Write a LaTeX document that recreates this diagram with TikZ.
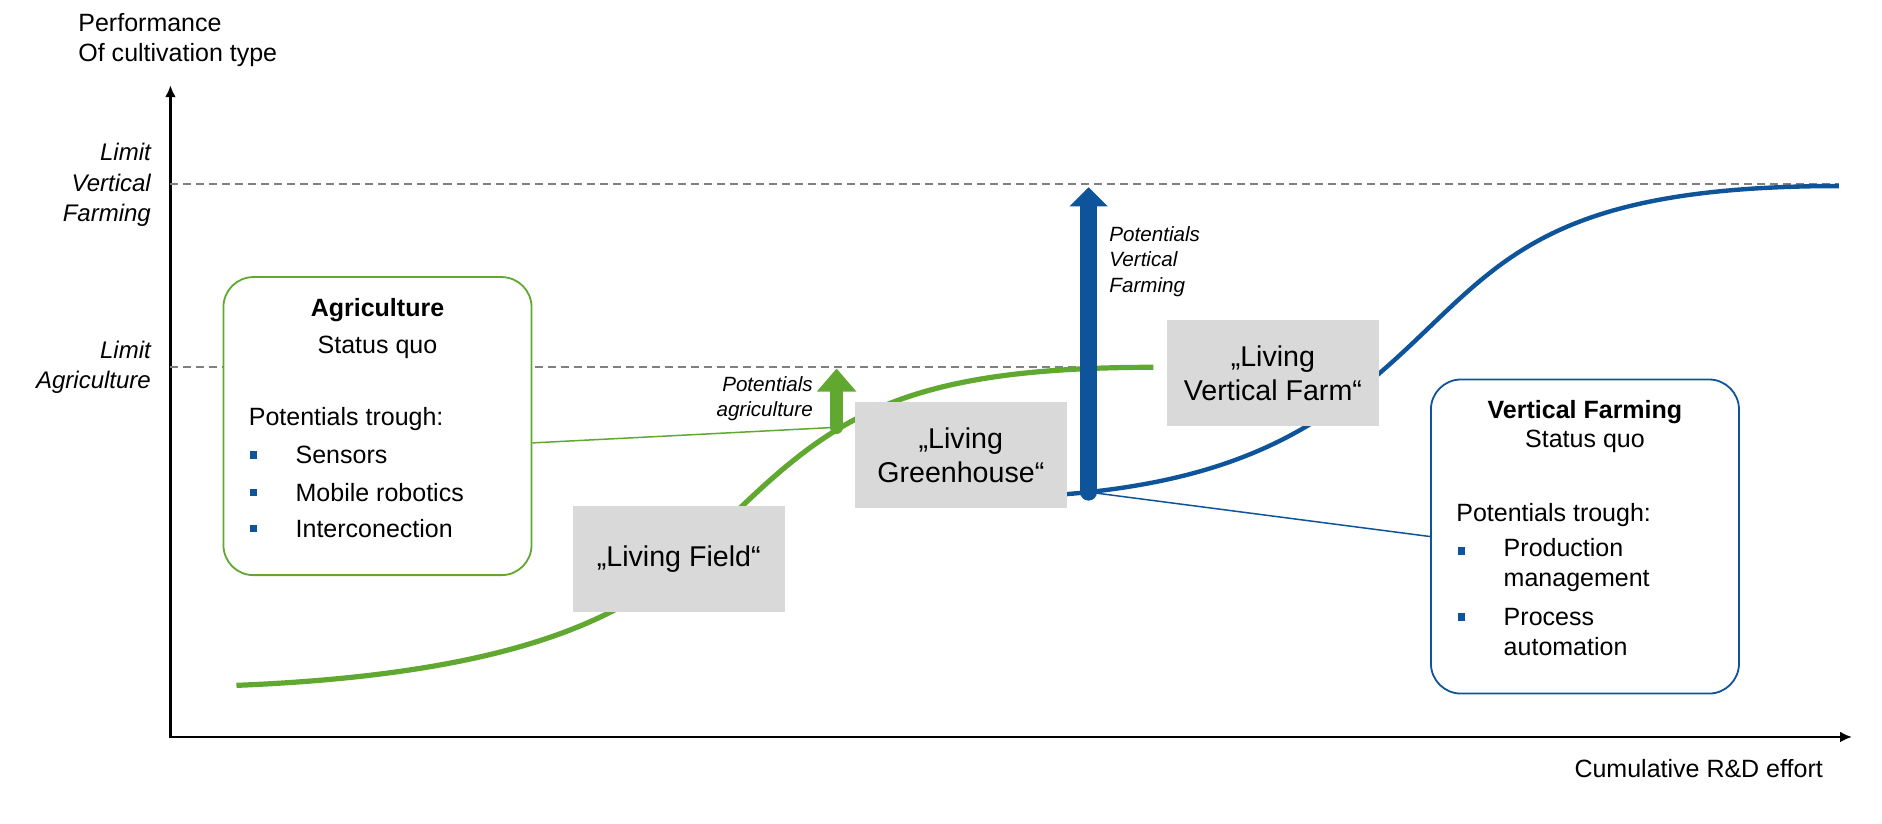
\documentclass[tikz,border=0pt]{standalone}
\usepackage{fontspec}
\setmainfont{Liberation Sans}
\usetikzlibrary{arrows.meta}

\definecolor{agrigreen}{RGB}{96,168,48}
\definecolor{vfblue}{RGB}{14,84,154}
\definecolor{stagegray}{RGB}{217,217,217}
\definecolor{limitgray}{RGB}{128,128,128}

\begin{document}
\begin{tikzpicture}[x=0.6pt,y=-0.6pt,>=Latex,
	txt/.style={inner sep=0pt,font=\fontsize{12.5}{15}\selectfont},
	hd/.style={inner sep=0pt,font=\fontsize{12.5}{15}\selectfont\bfseries},
	lim/.style={inner sep=0pt,align=right,anchor=east,font=\fontsize{12}{15.3}\selectfont\itshape},
	pot/.style={inner sep=0pt,font=\fontsize{10.3}{12.8}\selectfont\itshape},
	stage/.style={fill=stagegray,minimum width=106pt,minimum height=53pt,inner sep=0pt,align=center,font=\fontsize{14.3}{17}\selectfont},
	quo/.style={draw,fill=white,rounded corners=15pt,line width=0.9pt,minimum width=154pt,inner sep=0pt},
	bul/.style={fill=vfblue,minimum size=3.6pt,inner sep=0pt},
	limline/.style={limitgray,line width=1pt,dash pattern=on 4pt off 2.5pt},
	axisline/.style={line width=1.4pt,{Latex[length=6pt,width=5.5pt]}-{Latex[length=6pt,width=5.5pt]}}]
	\useasboundingbox (0,0) rectangle (1568,686.5);

	% axes
	\coordinate (o) at (142,614);
	\coordinate (ytop) at (142,71);
	\coordinate (xend) at (1543,614);
	\draw[axisline] (ytop) -- (o) -- (xend);
	\node[txt,anchor=west,align=left] (ylab) at (65,33) {Performance\\Of cultivation type};
	\node[txt,anchor=east] (xlab) at (1519,640) {Cumulative R\&D effort};

	% limits
	\coordinate (limvf) at (142,153);
	\coordinate (limvfend) at (1532,153);
	\coordinate (limag) at (142,306);
	\coordinate (limagend) at (961,306);
	\node[lim] (limvflab) at (126,154) {Limit\\Vertical\\Farming};
	\node[lim] (limaglab) at (126,306) {Limit\\Agriculture};
	\draw[limline] (limvf) -- (limvfend);
	\draw[limline] (limag) -- (limagend);

	% curves
	\draw[agrigreen,line width=2.6pt] (197,571) .. controls (517,558.2) and (565,472.3) .. (620,420)
		.. controls (700,344) and (761,306) .. (961,306);
	\draw[vfblue,line width=2.2pt] (870,413) .. controls (1040,402.8) and (1110,349.5) .. (1180,283)
		.. controls (1255,211.75) and (1302,155) .. (1532,155);

	% stages
	\node[stage] (field) at (565.5,466) {„Living Field“};
	\node[stage] (greenhouse) at (800.5,379) {„Living\\Greenhouse“};
	\node[stage] (vfarm) at (1060.5,311) {„Living\\Vertical Farm“};

	% status quo agriculture
	\node[quo,draw=agrigreen,minimum height=149pt] (agri) at (314.5,355) {};
	\node[hd] (agrihd) at (314.5,258) {Agriculture};
	\node[txt] (agriquo) at (314.5,289) {Status quo};
	\node[txt,anchor=west] (agripot) at (207,349) {Potentials trough:};
	\foreach \y/\t [count=\i] in {379/Sensors,410/Mobile robotics,440/Interconection} {
		\node[bul] (agribul\i) at (211,\y) {};
		\node[txt,anchor=west] (agriitem\i) at (246,\y) {\t};
	}

	% status quo vertical farming
	\node[quo,draw=vfblue,minimum height=157pt] (vf) at (1320.5,447) {};
	\node[hd] (vfhd) at (1320.5,343) {Vertical Farming};
	\node[txt] (vfquo) at (1320.5,368) {Status quo};
	\node[txt,anchor=west] (vfpot) at (1213,429) {Potentials trough:};
	\node[bul] (vfbul1) at (1217.5,459) {};
	\node[txt,anchor=west,align=left] (vfitem1) at (1252.5,471) {Production\\management};
	\node[bul] (vfbul2) at (1217.5,514) {};
	\node[txt,anchor=west,align=left] (vfitem2) at (1252.5,526.5) {Process\\automation};

	% potentials
	\coordinate (ga) at (697,356);
	\coordinate (gatop) at (697,307);
	\coordinate (ba) at (907,410);
	\coordinate (batop) at (907,156);
	\draw[agrigreen,line width=0.75pt] ([yshift=-8.4pt]agri.east) -- (ga);
	\draw[vfblue,line width=0.75pt] (ba) -- (vf.west);
	\draw[agrigreen,line width=6.7pt,line cap=round,-{Triangle[length=11.5pt,width=19pt]}] (ga) -- (gatop);
	\draw[vfblue,line width=8.5pt,line cap=round,-{Triangle[length=9.5pt,width=18.5pt]}] (ba) -- (batop);
	\node[pot,anchor=east,align=right] (potag) at (677.5,332) {Potentials\\agriculture};
	\node[pot,anchor=west,align=left] (potvf) at (924,218) {Potentials\\Vertical\\Farming};
\end{tikzpicture}
\end{document}
